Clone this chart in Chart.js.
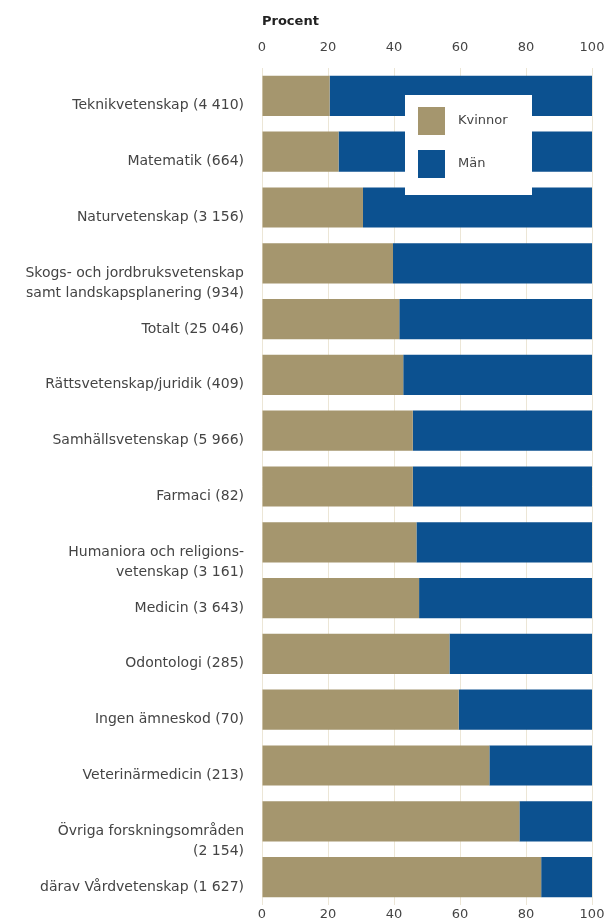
<!DOCTYPE html>
<html>
<head>
<meta charset="utf-8">
<script src="https://cdn.jsdelivr.net/npm/chart.js@4.4.1/dist/chart.umd.min.js"></script>
<style>
  html, body { margin: 0; padding: 0; background: #fff; }
  .chart-wrap { position: relative; width: 608px; height: 924px; }
</style>
</head>
<body>
<div class="chart-wrap"><canvas id="chart"></canvas></div>
<script>
// categories, two-line labels kept as arrays
var categories = [
  "Teknikvetenskap (4 410)",
  "Matematik (664)",
  "Naturvetenskap (3 156)",
  ["Skogs- och jordbruksvetenskap", "samt landskapsplanering (934)"],
  "Totalt (25 046)",
  "Rättsvetenskap/juridik (409)",
  "Samhällsvetenskap (5 966)",
  "Farmaci (82)",
  ["Humaniora och religions-", "vetenskap (3 161)"],
  "Medicin (3 643)",
  "Odontologi (285)",
  "Ingen ämneskod (70)",
  "Veterinärmedicin (213)",
  ["Övriga forskningsområden", "(2 154)"],
  "därav Vårdvetenskap (1 627)"
];

var kvinnor = [20.5, 23.2, 30.6, 39.7, 41.6, 42.8, 45.7, 45.7, 46.8, 47.6, 56.8, 59.6, 68.9, 78.0, 84.6];
var man     = [79.5, 76.8, 69.4, 60.3, 58.4, 57.2, 54.3, 54.3, 53.2, 52.4, 43.2, 40.4, 31.1, 22.0, 15.4];

var xTicks = [0, 20, 40, 60, 80, 100];

var color_kvinnor = "#a5966e";
var color_man = "#0c5190";
var font_family = "'DejaVu Sans'";

// every label gets two lines so the first line sits just below the bar centre
var yLabels = categories.map(function(c) {
  return Array.isArray(c) ? c : [c, ""];
});

// legend box drawn inside the plot, like the original
var insideLegend = {
  id: "insideLegend",
  afterDatasetsDraw: function(chart) {
    var ctx = chart.ctx;
    var area = chart.chartArea;
    var x = area.left + 143;
    var y = area.top + 27;
    ctx.save();
    ctx.fillStyle = "#ffffff";
    ctx.fillRect(x, y, 127, 100);
    chart.data.datasets.forEach(function(ds, i) {
      var by = y + 12 + i * 43;
      ctx.fillStyle = ds.backgroundColor;
      ctx.fillRect(x + 13, by, 27, 28);
      ctx.fillStyle = "#444";
      ctx.font = "13px " + font_family;
      ctx.textBaseline = "middle";
      ctx.fillText(ds.label, x + 53, by + 14);
    });
    ctx.restore();
  }
};

function noSidePadding(scale) {
  scale.paddingLeft = 0;
  scale.paddingRight = 0;
}

var ctx = document.getElementById("chart").getContext("2d");
var chart = new Chart(ctx, {
  type: "bar",
  data: {
    labels: yLabels,
    datasets: [
      { label: "Kvinnor", data: kvinnor, backgroundColor: color_kvinnor, xAxisID: "x" },
      { label: "Män", data: man, backgroundColor: color_man, xAxisID: "x" }
    ]
  },
  options: {
    indexAxis: "y",
    responsive: true,
    maintainAspectRatio: false,
    animation: false,
    layout: { padding: { right: 16, left: 0, top: 0, bottom: 0 } },
    datasets: {
      bar: { categoryPercentage: 1.0, barPercentage: 0.72, borderWidth: 0 }
    },
    plugins: {
      legend: { display: false },
      tooltip: { enabled: false }
    },
    scales: {
      x: {
        position: "top",
        stacked: true,
        min: 0,
        max: 100,
        afterBuildTicks: function(scale) {
          scale.ticks = xTicks.map(function(v) { return { value: v }; });
        },
        afterFit: function(scale) { scale.height = 68; noSidePadding(scale); },
        grid: { color: "#ece6d6", lineWidth: 1, drawTicks: false },
        border: { display: false },
        ticks: { padding: 13, color: "#444", font: { family: font_family, size: 13 } },
        title: {
          display: true,
          text: "Procent",
          align: "start",
          color: "#222",
          font: { family: font_family, size: 13, weight: "bold" },
          padding: { top: 14, bottom: 0 }
        }
      },
      x2: {
        position: "bottom",
        min: 0,
        max: 100,
        afterBuildTicks: function(scale) {
          scale.ticks = xTicks.map(function(v) { return { value: v }; });
        },
        afterFit: function(scale) { scale.height = 19; noSidePadding(scale); },
        grid: { display: false, drawTicks: false },
        border: { display: false },
        ticks: { padding: 2, color: "#444", font: { family: font_family, size: 13 } }
      },
      y: {
        stacked: true,
        afterFit: function(scale) {
          scale.width = 262;
          scale.paddingTop = 0;
          scale.paddingBottom = 0;
        },
        grid: { display: false, drawTicks: false },
        border: { display: false },
        ticks: {
          padding: 18,
          labelOffset: 20,
          color: "#444",
          font: { family: font_family, size: 14, lineHeight: 1.45 }
        }
      }
    }
  },
  plugins: [insideLegend]
});
</script>
</body>
</html>
